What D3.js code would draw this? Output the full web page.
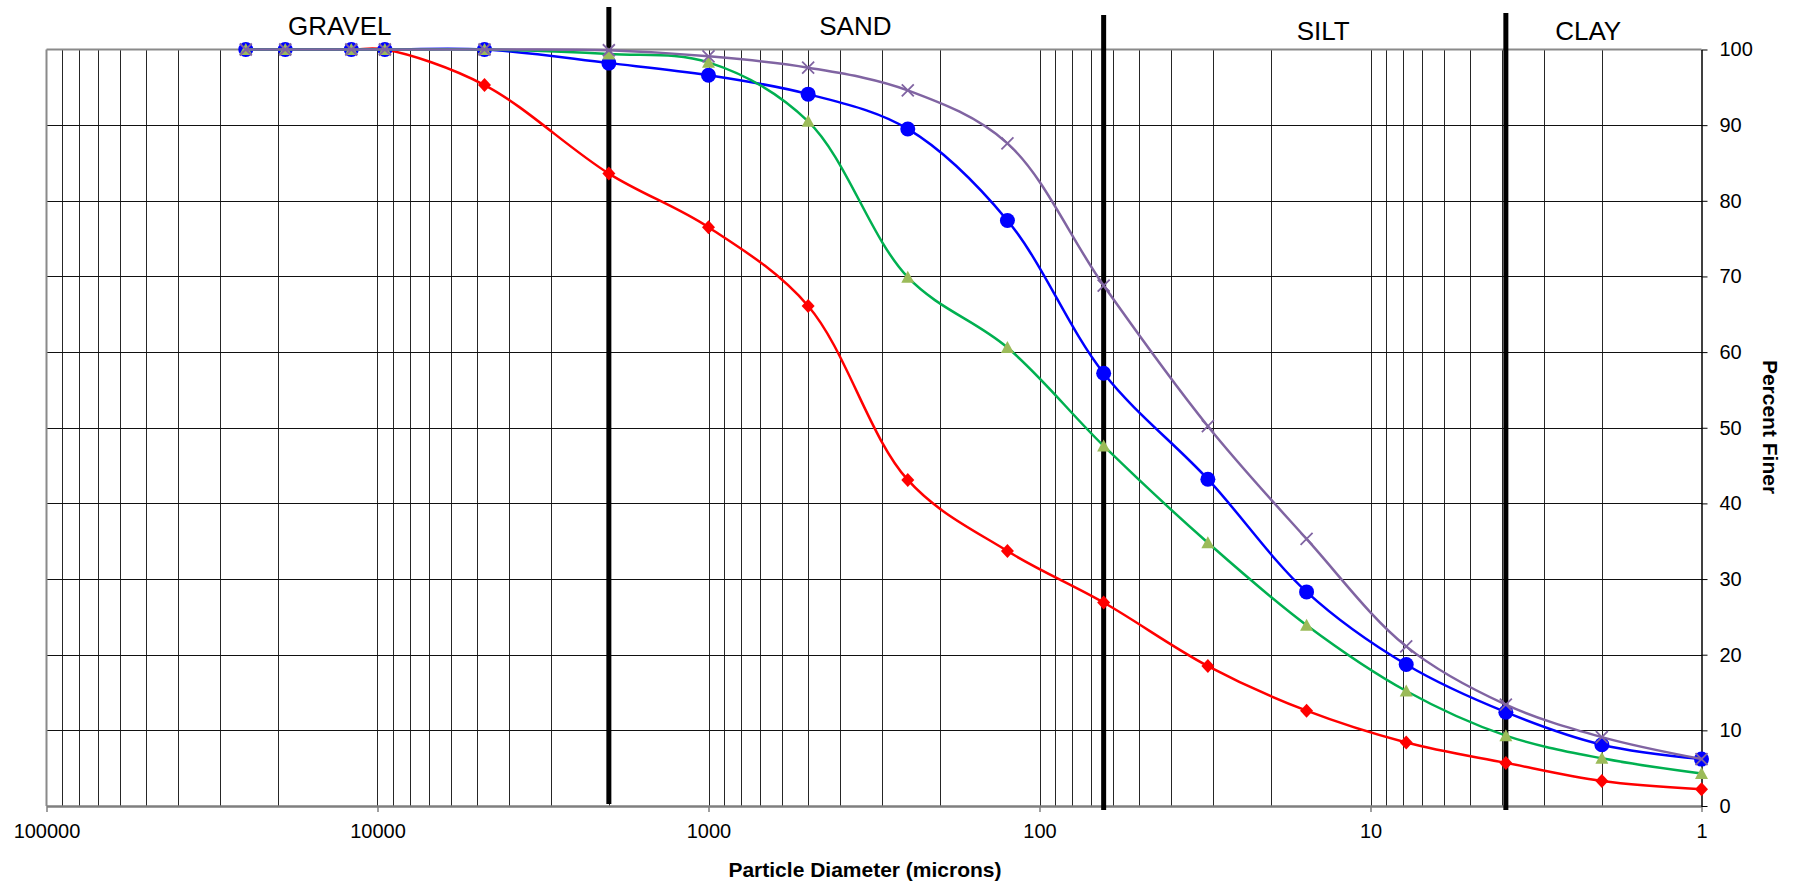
<!DOCTYPE html>
<html>
<head>
<meta charset="utf-8">
<script src="https://cdn.jsdelivr.net/npm/d3@7"></script>
<style>
  html, body { margin: 0; padding: 0; background: #fff; }
  svg { display: block; }
</style>
</head>
<body>
<div id="chart"></div>
<script>
// sieve / pipette sizes, microns
const sizes = [25000, 19000, 12000, 9500, 4750, 2000, 1000, 500, 250, 125, 64, 31, 15.6, 7.8, 3.9, 2, 1];

// percent finer for each sample
const sampleRed    = [100, 100, 100, 100, 95.3, 83.6, 76.5, 66.1, 43.1, 33.7, 26.9, 18.5, 12.6, 8.4, 5.7, 3.3, 2.2];
const sampleBlue   = [100, 100, 100, 100, 100, 98.2, 96.6, 94.1, 89.5, 77.4, 57.2, 43.2, 28.3, 18.7, 12.4, 8.1, 6.2];
const sampleGreen  = [100, 100, 100, 100, 100, 99.4, 98.3, 90.5, 69.9, 60.6, 47.6, 34.8, 23.9, 15.2, 9.3, 6.3, 4.3];
const samplePurple = [100, 100, 100, 100, 100, 99.9, 99.1, 97.6, 94.6, 87.6, 68.8, 50.2, 35.3, 21.1, 13.4, 9.1, 6.2];

// grain size classes
const classNames = ["GRAVEL", "SAND", "SILT", "CLAY"];
const classLabelAt = [13000, 360, 13.9, 2.2];   // where the label sits, microns
const classBounds = [2000, 64, 3.9];

const xTickValues = [100000, 10000, 1000, 100, 10, 1];
const yTickValues = [0, 10, 20, 30, 40, 50, 60, 70, 80, 90, 100];

const width = 1795;
const height = 887;
const plot = { left: 46.5, right: 1701.5, top: 49.5, bottom: 806 };
const font = "Arial, 'Liberation Sans', sans-serif";

const svg = d3.select("#chart").append("svg")
    .attr("width", width)
    .attr("height", height)
    .style("font-family", font)
    .style("background", "white");

const x = d3.scaleLog().domain([100000, 1]).range([plot.left, plot.right]);
const y = d3.scaleLinear().domain([0, 100]).range([plot.bottom, plot.top]);

// vertical grid: 1..9 x 10^k
const minor = [];
for (let k = 0; k < 5; k++) {
    for (let m = 1; m <= 9; m++) {
        const v = m * Math.pow(10, k);
        if (v > 1 && v < 100000) minor.push(v);
    }
}

const grid = svg.append("g");
grid.selectAll("line.vx")
    .data(minor)
    .join("line")
    .attr("class", "vx")
    .attr("x1", d => Math.round(x(d)) + 0.5)
    .attr("x2", d => Math.round(x(d)) + 0.5)
    .attr("y1", plot.top)
    .attr("y2", plot.bottom)
    .attr("stroke", "#262626")
    .attr("stroke-width", 1)
    .style("shape-rendering", "crispEdges");

grid.selectAll("line.hy")
    .data(yTickValues.filter(d => d > 0 && d < 100))
    .join("line")
    .attr("class", "hy")
    .attr("x1", plot.left)
    .attr("x2", plot.right)
    .attr("y1", d => Math.round(y(d)) + 0.5)
    .attr("y2", d => Math.round(y(d)) + 0.5)
    .attr("stroke", "#111")
    .attr("stroke-width", 1)
    .style("shape-rendering", "crispEdges");

// plot frame (top + left grey)
svg.append("line")
    .attr("x1", plot.left).attr("x2", plot.right)
    .attr("y1", plot.top).attr("y2", plot.top)
    .attr("stroke", "#8a8a8a").attr("stroke-width", 2);
svg.append("line")
    .attr("x1", plot.left).attr("x2", plot.left)
    .attr("y1", plot.top).attr("y2", plot.bottom)
    .attr("stroke", "#8a8a8a").attr("stroke-width", 2);

// bottom axis
const xAxis = d3.axisBottom(x)
    .tickValues(xTickValues)
    .tickFormat(d3.format("d"))
    .tickSizeInner(6)
    .tickSizeOuter(0)
    .tickPadding(12);

const gx = svg.append("g")
    .attr("transform", `translate(0,${plot.bottom})`)
    .call(xAxis);
gx.select(".domain").attr("stroke", "#7f7f7f").attr("stroke-width", 2.5);
gx.selectAll(".tick line").attr("stroke", "#7f7f7f").attr("stroke-width", 1.5);
gx.selectAll(".tick text")
    .attr("fill", "#000")
    .style("font-size", "20px")
    .style("font-family", font);

// right axis
const yAxis = d3.axisRight(y)
    .tickValues(yTickValues)
    .tickSizeInner(6)
    .tickSizeOuter(0)
    .tickPadding(12);

const gy = svg.append("g")
    .attr("transform", `translate(${plot.right},0)`)
    .call(yAxis);
gy.select(".domain").attr("stroke", "#000").attr("stroke-width", 1.5);
gy.selectAll(".tick line").attr("stroke", "#000").attr("stroke-width", 1);
gy.selectAll(".tick text")
    .attr("fill", "#000")
    .style("font-size", "20px")
    .style("font-family", font);

// class boundaries
const boundTop = [7, 15, 13];
svg.selectAll("line.bound")
    .data(classBounds)
    .join("line")
    .attr("class", "bound")
    .attr("x1", d => x(d)).attr("x2", d => x(d))
    .attr("y1", (d, i) => boundTop[i])
    .attr("y2", (d, i) => i === 0 ? plot.bottom - 2 : plot.bottom + 4)
    .attr("stroke", "#000")
    .attr("stroke-width", 5);

svg.selectAll("text.cls")
    .data(classNames)
    .join("text")
    .attr("class", "cls")
    .attr("x", (d, i) => x(classLabelAt[i]))
    .attr("y", (d, i) => i < 2 ? 35 : 40)
    .attr("text-anchor", "middle")
    .style("font-size", "26px")
    .text(d => d);

// series
const series = [
    { values: sampleRed, line: "#ff0000", marker: "diamond", fill: "#ff0000" },
    { values: sampleBlue, line: "#0000ff", marker: "circle", fill: "#0000ff" },
    { values: sampleGreen, line: "#00b050", marker: "triangle", fill: "#9bbb59" },
    { values: samplePurple, line: "#8064a2", marker: "cross", fill: "#8064a2" }
];

const lineGen = d3.line()
    .x(d => x(d[0]))
    .y(d => y(d[1]))
    .curve(d3.curveCatmullRom.alpha(0.5));

const markerPath = {
    diamond: "M0,-7L6.5,0L0,7L-6.5,0Z",
    triangle: "M0,-6.5L6.5,5.5L-6.5,5.5Z",
    cross: "M-6,-6L6,6M-6,6L6,-6"
};

series.forEach(s => {
    const pts = sizes.map((sz, i) => [sz, s.values[i]]);
    const g = svg.append("g");

    g.append("path")
        .datum(pts)
        .attr("d", lineGen)
        .attr("fill", "none")
        .attr("stroke", s.line)
        .attr("stroke-width", 2.5);

    const m = g.selectAll("g.pt")
        .data(pts)
        .join("g")
        .attr("class", "pt")
        .attr("transform", d => `translate(${x(d[0])},${y(d[1])})`);

    if (s.marker === "circle") {
        m.append("circle").attr("r", 7.5).attr("fill", s.fill);
    } else if (s.marker === "cross") {
        m.append("path").attr("d", markerPath.cross)
            .attr("fill", "none").attr("stroke", s.fill).attr("stroke-width", 1.8);
    } else {
        m.append("path").attr("d", markerPath[s.marker]).attr("fill", s.fill);
    }
});

// axis titles
svg.append("text")
    .attr("x", 865)
    .attr("y", 877)
    .attr("text-anchor", "middle")
    .style("font-size", "21px")
    .style("font-weight", "bold")
    .text("Particle Diameter (microns)");

svg.append("text")
    .attr("transform", "translate(1763,427) rotate(90)")
    .attr("text-anchor", "middle")
    .style("font-size", "21px")
    .style("font-weight", "bold")
    .text("Percent Finer");
</script>
</body>
</html>
